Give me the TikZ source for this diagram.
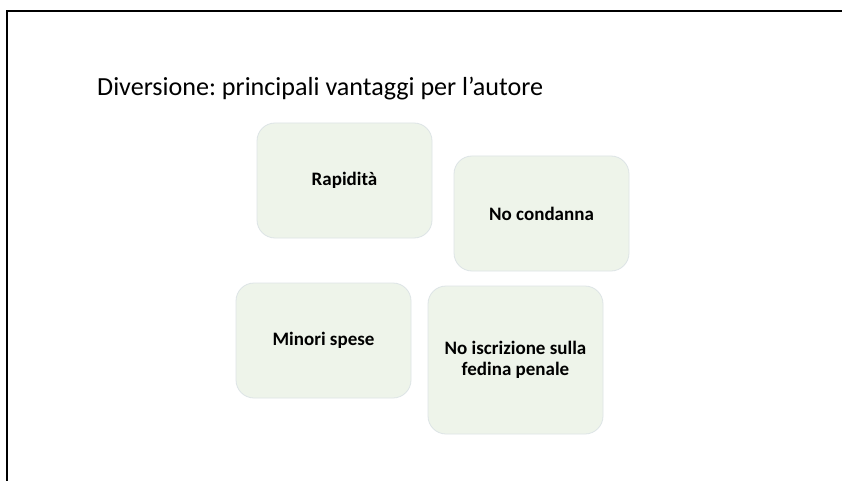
\documentclass[tikz,border=0pt]{standalone}
\usepackage{fontspec}
\setmainfont{Carlito}
\frenchspacing
\definecolor{boxfill}{HTML}{EEF4EA}
\definecolor{boxline}{HTML}{DDE4E6}
\tikzset{
  card/.style={draw=boxline, line width=0.8pt, fill=boxfill, rounded corners=18pt, minimum width=175pt, align=center, font=\fontsize{19}{21}\selectfont\bfseries, inner sep=0pt},
}
\begin{document}
\begin{tikzpicture}[x=1pt,y=-1pt]
\useasboundingbox (0,0) rectangle (842,481);
\fill[white] (0,0) rectangle (842,481);
\draw[line width=2pt] (6.5,481) -- (6.5,11.5) -- (842,11.5);
\node[anchor=base west, inner sep=0pt, font=\fontsize{26.1}{31}\selectfont] (title) at (97,96) {Diversione: principali vantaggi per l’autore};
\node[card, minimum height=115pt] (rap) at (344.5,180.5) {Rapidità};
\node[card, minimum height=115pt] (cond) at (541.5,213.5) {No condanna};
\node[card, minimum height=115pt] (spese) at (323.5,340.5) {Minori spese};
\node[card, minimum height=148pt] (iscr) at (515.5,360) {No iscrizione sulla\\fedina penale};
\end{tikzpicture}
\end{document}
